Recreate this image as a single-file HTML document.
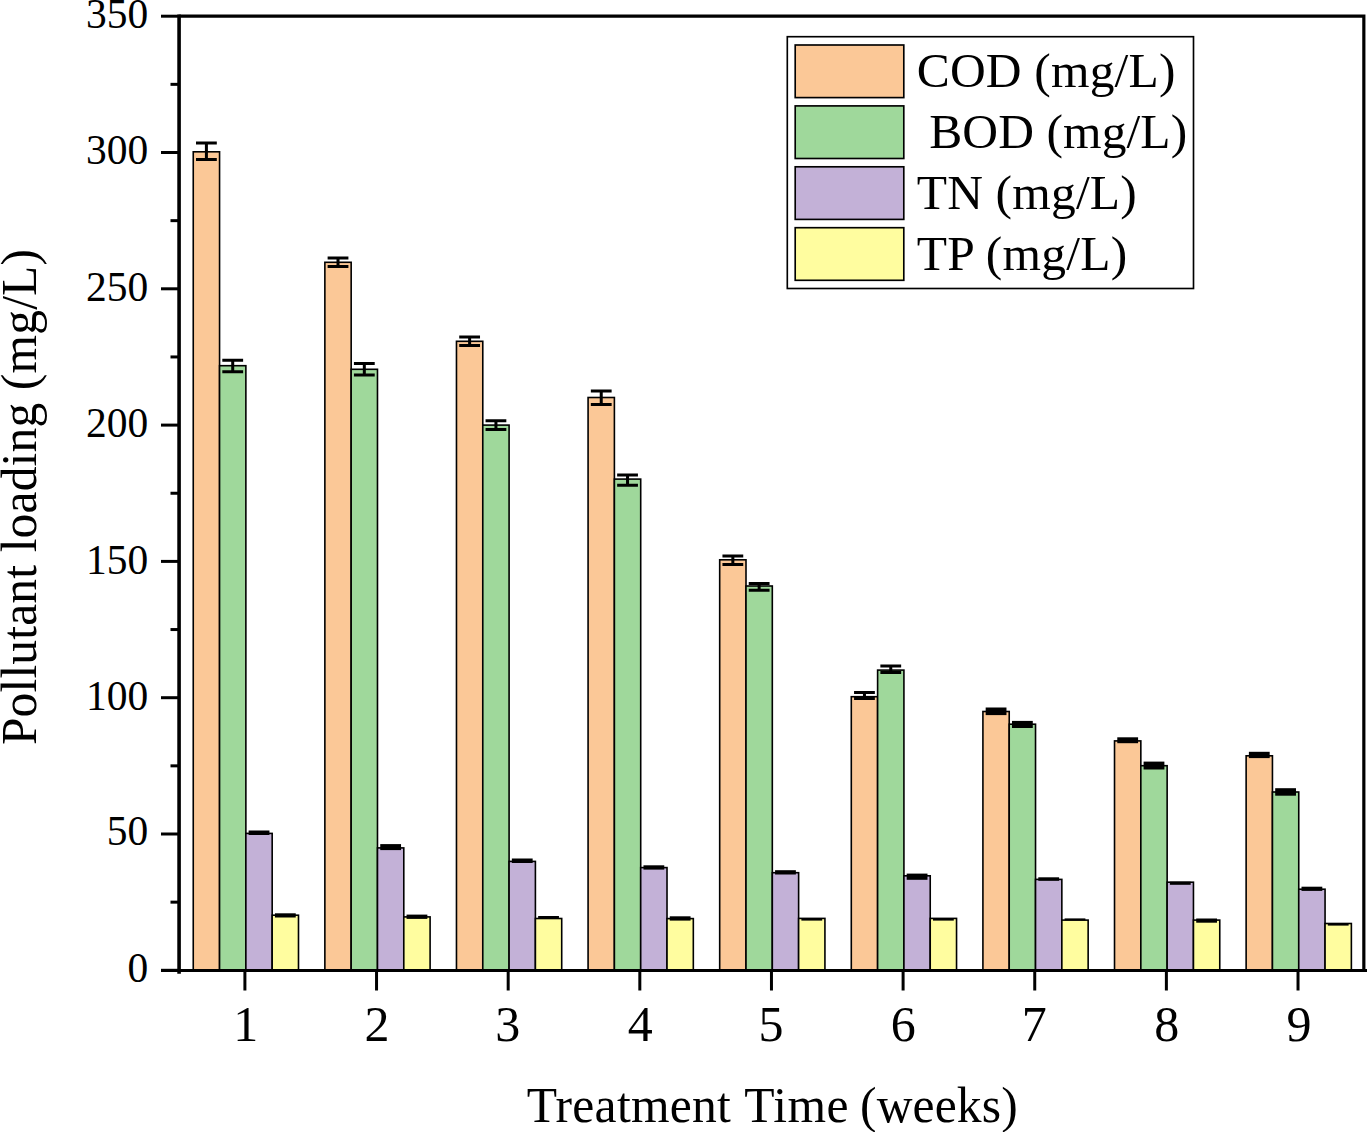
<!DOCTYPE html><html><head><meta charset="utf-8"><style>html,body{margin:0;padding:0;background:#fff;}body{width:1367px;height:1132px;overflow:hidden;}svg{display:block;}text{font-family:"Liberation Serif",serif;fill:#000;}</style></head><body>
<svg width="1367" height="1132" viewBox="0 0 1367 1132">
<rect x="0" y="0" width="1367" height="1132" fill="#fff"/>
<rect x="193.25" y="151.80" width="26.31" height="818.50" fill="#FBC897" stroke="#000" stroke-width="1.6"/>
<rect x="219.56" y="365.70" width="26.31" height="604.60" fill="#9FD89B" stroke="#000" stroke-width="1.6"/>
<rect x="245.87" y="833.40" width="26.31" height="136.90" fill="#C3B1D7" stroke="#000" stroke-width="1.6"/>
<rect x="272.18" y="915.20" width="26.31" height="55.10" fill="#FFFD9F" stroke="#000" stroke-width="1.6"/>
<rect x="324.86" y="262.30" width="26.31" height="708.00" fill="#FBC897" stroke="#000" stroke-width="1.6"/>
<rect x="351.17" y="369.30" width="26.31" height="601.00" fill="#9FD89B" stroke="#000" stroke-width="1.6"/>
<rect x="377.48" y="847.90" width="26.31" height="122.40" fill="#C3B1D7" stroke="#000" stroke-width="1.6"/>
<rect x="403.79" y="916.90" width="26.31" height="53.40" fill="#FFFD9F" stroke="#000" stroke-width="1.6"/>
<rect x="456.47" y="341.30" width="26.31" height="629.00" fill="#FBC897" stroke="#000" stroke-width="1.6"/>
<rect x="482.78" y="425.10" width="26.31" height="545.20" fill="#9FD89B" stroke="#000" stroke-width="1.6"/>
<rect x="509.09" y="861.40" width="26.31" height="108.90" fill="#C3B1D7" stroke="#000" stroke-width="1.6"/>
<rect x="535.40" y="918.50" width="26.31" height="51.80" fill="#FFFD9F" stroke="#000" stroke-width="1.6"/>
<rect x="588.08" y="397.50" width="26.31" height="572.80" fill="#FBC897" stroke="#000" stroke-width="1.6"/>
<rect x="614.39" y="479.10" width="26.31" height="491.20" fill="#9FD89B" stroke="#000" stroke-width="1.6"/>
<rect x="640.70" y="867.60" width="26.31" height="102.70" fill="#C3B1D7" stroke="#000" stroke-width="1.6"/>
<rect x="667.01" y="918.60" width="26.31" height="51.70" fill="#FFFD9F" stroke="#000" stroke-width="1.6"/>
<rect x="719.69" y="559.80" width="26.31" height="410.50" fill="#FBC897" stroke="#000" stroke-width="1.6"/>
<rect x="746.00" y="586.00" width="26.31" height="384.30" fill="#9FD89B" stroke="#000" stroke-width="1.6"/>
<rect x="772.31" y="872.70" width="26.31" height="97.60" fill="#C3B1D7" stroke="#000" stroke-width="1.6"/>
<rect x="798.62" y="918.40" width="26.31" height="51.90" fill="#FFFD9F" stroke="#000" stroke-width="1.6"/>
<rect x="851.30" y="696.70" width="26.31" height="273.60" fill="#FBC897" stroke="#000" stroke-width="1.6"/>
<rect x="877.61" y="670.10" width="26.31" height="300.20" fill="#9FD89B" stroke="#000" stroke-width="1.6"/>
<rect x="903.92" y="875.80" width="26.31" height="94.50" fill="#C3B1D7" stroke="#000" stroke-width="1.6"/>
<rect x="930.23" y="918.40" width="26.31" height="51.90" fill="#FFFD9F" stroke="#000" stroke-width="1.6"/>
<rect x="982.91" y="711.50" width="26.31" height="258.80" fill="#FBC897" stroke="#000" stroke-width="1.6"/>
<rect x="1009.22" y="724.20" width="26.31" height="246.10" fill="#9FD89B" stroke="#000" stroke-width="1.6"/>
<rect x="1035.53" y="879.40" width="26.31" height="90.90" fill="#C3B1D7" stroke="#000" stroke-width="1.6"/>
<rect x="1061.84" y="920.10" width="26.31" height="50.20" fill="#FFFD9F" stroke="#000" stroke-width="1.6"/>
<rect x="1114.52" y="740.90" width="26.31" height="229.40" fill="#FBC897" stroke="#000" stroke-width="1.6"/>
<rect x="1140.83" y="765.70" width="26.31" height="204.60" fill="#9FD89B" stroke="#000" stroke-width="1.6"/>
<rect x="1167.14" y="882.20" width="26.31" height="88.10" fill="#C3B1D7" stroke="#000" stroke-width="1.6"/>
<rect x="1193.45" y="920.10" width="26.31" height="50.20" fill="#FFFD9F" stroke="#000" stroke-width="1.6"/>
<rect x="1246.13" y="755.80" width="26.31" height="214.50" fill="#FBC897" stroke="#000" stroke-width="1.6"/>
<rect x="1272.44" y="792.00" width="26.31" height="178.30" fill="#9FD89B" stroke="#000" stroke-width="1.6"/>
<rect x="1298.75" y="889.20" width="26.31" height="81.10" fill="#C3B1D7" stroke="#000" stroke-width="1.6"/>
<rect x="1325.06" y="923.50" width="26.31" height="46.80" fill="#FFFD9F" stroke="#000" stroke-width="1.6"/>
<path d="M196.00 143.00H216.81M196.00 159.60H216.81M206.41 143.00V159.60" stroke="#000" stroke-width="3" fill="none"/>
<path d="M222.31 360.20H243.12M222.31 371.70H243.12M232.72 360.20V371.70" stroke="#000" stroke-width="3" fill="none"/>
<rect x="248.62" y="830.50" width="20.80" height="4.50" fill="#000"/>
<rect x="274.94" y="913.30" width="20.80" height="4.20" fill="#000"/>
<path d="M327.62 258.10H348.41M327.62 266.40H348.41M338.01 258.10V266.40" stroke="#000" stroke-width="3" fill="none"/>
<path d="M353.93 363.40H374.72M353.93 375.00H374.72M364.32 363.40V375.00" stroke="#000" stroke-width="3" fill="none"/>
<rect x="380.24" y="844.10" width="20.80" height="6.00" fill="#000"/>
<rect x="406.55" y="914.60" width="20.80" height="4.30" fill="#000"/>
<path d="M459.23 337.00H480.02M459.23 345.50H480.02M469.62 337.00V345.50" stroke="#000" stroke-width="3" fill="none"/>
<path d="M485.54 420.70H506.33M485.54 429.40H506.33M495.94 420.70V429.40" stroke="#000" stroke-width="3" fill="none"/>
<rect x="511.85" y="858.50" width="20.80" height="4.50" fill="#000"/>
<rect x="538.15" y="916.00" width="20.80" height="3.00" fill="#000"/>
<path d="M590.84 391.00H611.63M590.84 404.40H611.63M601.24 391.00V404.40" stroke="#000" stroke-width="3" fill="none"/>
<path d="M617.14 475.00H637.94M617.14 485.20H637.94M627.54 475.00V485.20" stroke="#000" stroke-width="3" fill="none"/>
<rect x="643.46" y="865.30" width="20.80" height="4.30" fill="#000"/>
<rect x="669.76" y="916.30" width="20.80" height="4.30" fill="#000"/>
<path d="M722.45 555.90H743.25M722.45 564.40H743.25M732.85 555.90V564.40" stroke="#000" stroke-width="3" fill="none"/>
<path d="M748.75 583.40H769.55M748.75 590.30H769.55M759.15 583.40V590.30" stroke="#000" stroke-width="3" fill="none"/>
<rect x="775.07" y="870.20" width="20.80" height="4.30" fill="#000"/>
<rect x="801.38" y="918.40" width="20.80" height="2.20" fill="#000"/>
<path d="M854.06 692.40H874.86M854.06 698.50H874.86M864.46 692.40V698.50" stroke="#000" stroke-width="3" fill="none"/>
<path d="M880.37 666.00H901.16M880.37 672.40H901.16M890.76 666.00V672.40" stroke="#000" stroke-width="3" fill="none"/>
<rect x="906.68" y="873.60" width="20.80" height="6.20" fill="#000"/>
<rect x="932.99" y="918.40" width="20.80" height="2.20" fill="#000"/>
<rect x="985.67" y="707.50" width="20.80" height="7.60" fill="#000"/>
<rect x="1011.98" y="720.90" width="20.80" height="7.10" fill="#000"/>
<rect x="1038.29" y="877.30" width="20.80" height="3.50" fill="#000"/>
<rect x="1064.60" y="918.40" width="20.80" height="2.00" fill="#000"/>
<rect x="1117.28" y="737.30" width="20.80" height="5.90" fill="#000"/>
<rect x="1143.59" y="761.60" width="20.80" height="7.90" fill="#000"/>
<rect x="1169.89" y="881.70" width="20.80" height="3.10" fill="#000"/>
<rect x="1196.21" y="918.50" width="20.80" height="4.20" fill="#000"/>
<rect x="1248.88" y="751.80" width="20.80" height="6.30" fill="#000"/>
<rect x="1275.19" y="788.20" width="20.80" height="7.50" fill="#000"/>
<rect x="1301.50" y="886.70" width="20.80" height="4.20" fill="#000"/>
<rect x="1327.82" y="923.50" width="20.80" height="2.10" fill="#000"/>
<path d="M179.08 16.20H1363.84V970.3" stroke="#000" stroke-width="3.2" fill="none"/>
<path d="M179.08 14.6V973.8" stroke="#000" stroke-width="3.6" fill="none"/>
<path d="M161 970.45H1367" stroke="#000" stroke-width="2.9" fill="none"/>
<path d="M161 970.30H179.08" stroke="#000" stroke-width="3" fill="none"/>
<path d="M161 834.00H179.08" stroke="#000" stroke-width="3" fill="none"/>
<path d="M161 697.70H179.08" stroke="#000" stroke-width="3" fill="none"/>
<path d="M161 561.40H179.08" stroke="#000" stroke-width="3" fill="none"/>
<path d="M161 425.10H179.08" stroke="#000" stroke-width="3" fill="none"/>
<path d="M161 288.80H179.08" stroke="#000" stroke-width="3" fill="none"/>
<path d="M161 152.50H179.08" stroke="#000" stroke-width="3" fill="none"/>
<path d="M161 16.20H179.08" stroke="#000" stroke-width="3" fill="none"/>
<path d="M170.5 902.15H179.08" stroke="#000" stroke-width="3" fill="none"/>
<path d="M170.5 765.85H179.08" stroke="#000" stroke-width="3" fill="none"/>
<path d="M170.5 629.55H179.08" stroke="#000" stroke-width="3" fill="none"/>
<path d="M170.5 493.25H179.08" stroke="#000" stroke-width="3" fill="none"/>
<path d="M170.5 356.95H179.08" stroke="#000" stroke-width="3" fill="none"/>
<path d="M170.5 220.65H179.08" stroke="#000" stroke-width="3" fill="none"/>
<path d="M170.5 84.35H179.08" stroke="#000" stroke-width="3" fill="none"/>
<path d="M244.90 970.3V990.5" stroke="#000" stroke-width="3" fill="none"/>
<path d="M376.54 970.3V990.5" stroke="#000" stroke-width="3" fill="none"/>
<path d="M508.18 970.3V990.5" stroke="#000" stroke-width="3" fill="none"/>
<path d="M639.82 970.3V990.5" stroke="#000" stroke-width="3" fill="none"/>
<path d="M771.46 970.3V990.5" stroke="#000" stroke-width="3" fill="none"/>
<path d="M903.10 970.3V990.5" stroke="#000" stroke-width="3" fill="none"/>
<path d="M1034.74 970.3V990.5" stroke="#000" stroke-width="3" fill="none"/>
<path d="M1166.38 970.3V990.5" stroke="#000" stroke-width="3" fill="none"/>
<path d="M1298.02 970.3V990.5" stroke="#000" stroke-width="3" fill="none"/>
<text x="148.2" y="981.90" font-size="41.5" text-anchor="end">0</text>
<text x="148.2" y="845.35" font-size="41.5" text-anchor="end">50</text>
<text x="148.2" y="710.40" font-size="41.5" text-anchor="end">100</text>
<text x="148.2" y="573.85" font-size="41.5" text-anchor="end">150</text>
<text x="148.2" y="437.45" font-size="41.5" text-anchor="end">200</text>
<text x="148.2" y="300.95" font-size="41.5" text-anchor="end">250</text>
<text x="148.2" y="164.35" font-size="41.5" text-anchor="end">300</text>
<text x="148.2" y="27.80" font-size="41.5" text-anchor="end">350</text>
<text x="245.70" y="1041.4" font-size="50" text-anchor="middle">1</text>
<text x="376.99" y="1041.4" font-size="50" text-anchor="middle">2</text>
<text x="507.83" y="1041.4" font-size="50" text-anchor="middle">3</text>
<text x="640.32" y="1041.4" font-size="50" text-anchor="middle">4</text>
<text x="771.11" y="1041.4" font-size="50" text-anchor="middle">5</text>
<text x="903.30" y="1041.4" font-size="50" text-anchor="middle">6</text>
<text x="1034.24" y="1041.4" font-size="50" text-anchor="middle">7</text>
<text x="1166.78" y="1041.4" font-size="50" text-anchor="middle">8</text>
<text x="1298.92" y="1041.4" font-size="50" text-anchor="middle">9</text>
<text x="526.8" y="1121.5" font-size="49.6" textLength="204" lengthAdjust="spacing">Treatment</text>
<text x="744.2" y="1121.5" font-size="49.6" textLength="104.4" lengthAdjust="spacing">Time</text>
<text x="860.0" y="1121.5" font-size="49.6" textLength="157.7" lengthAdjust="spacing">(weeks)</text>
<text transform="translate(35.5 745.1) rotate(-90)" font-size="49.6" textLength="496.1" lengthAdjust="spacing">Pollutant loading (mg/L)</text>
<rect x="787.3" y="36.7" width="406.2" height="251.8" fill="#fff" stroke="#000" stroke-width="1.65"/>
<rect x="795.2" y="45.00" width="108.6" height="52.6" fill="#FBC897" stroke="#000" stroke-width="1.65"/>
<text x="916.7" y="86.80" font-size="49.5" xml:space="preserve" textLength="258.71" lengthAdjust="spacing">COD (mg/L)</text>
<rect x="795.2" y="105.90" width="108.6" height="52.6" fill="#9FD89B" stroke="#000" stroke-width="1.65"/>
<text x="916.7" y="147.70" font-size="49.5" xml:space="preserve" textLength="270.48" lengthAdjust="spacing"> BOD (mg/L)</text>
<rect x="795.2" y="166.80" width="108.6" height="52.6" fill="#C3B1D7" stroke="#000" stroke-width="1.65"/>
<text x="916.7" y="208.60" font-size="49.5" xml:space="preserve" textLength="220.08" lengthAdjust="spacing">TN (mg/L)</text>
<rect x="795.2" y="227.70" width="108.6" height="52.6" fill="#FFFD9F" stroke="#000" stroke-width="1.65"/>
<text x="916.7" y="269.50" font-size="49.5" xml:space="preserve" textLength="210.52" lengthAdjust="spacing">TP (mg/L)</text>
</svg></body></html>
